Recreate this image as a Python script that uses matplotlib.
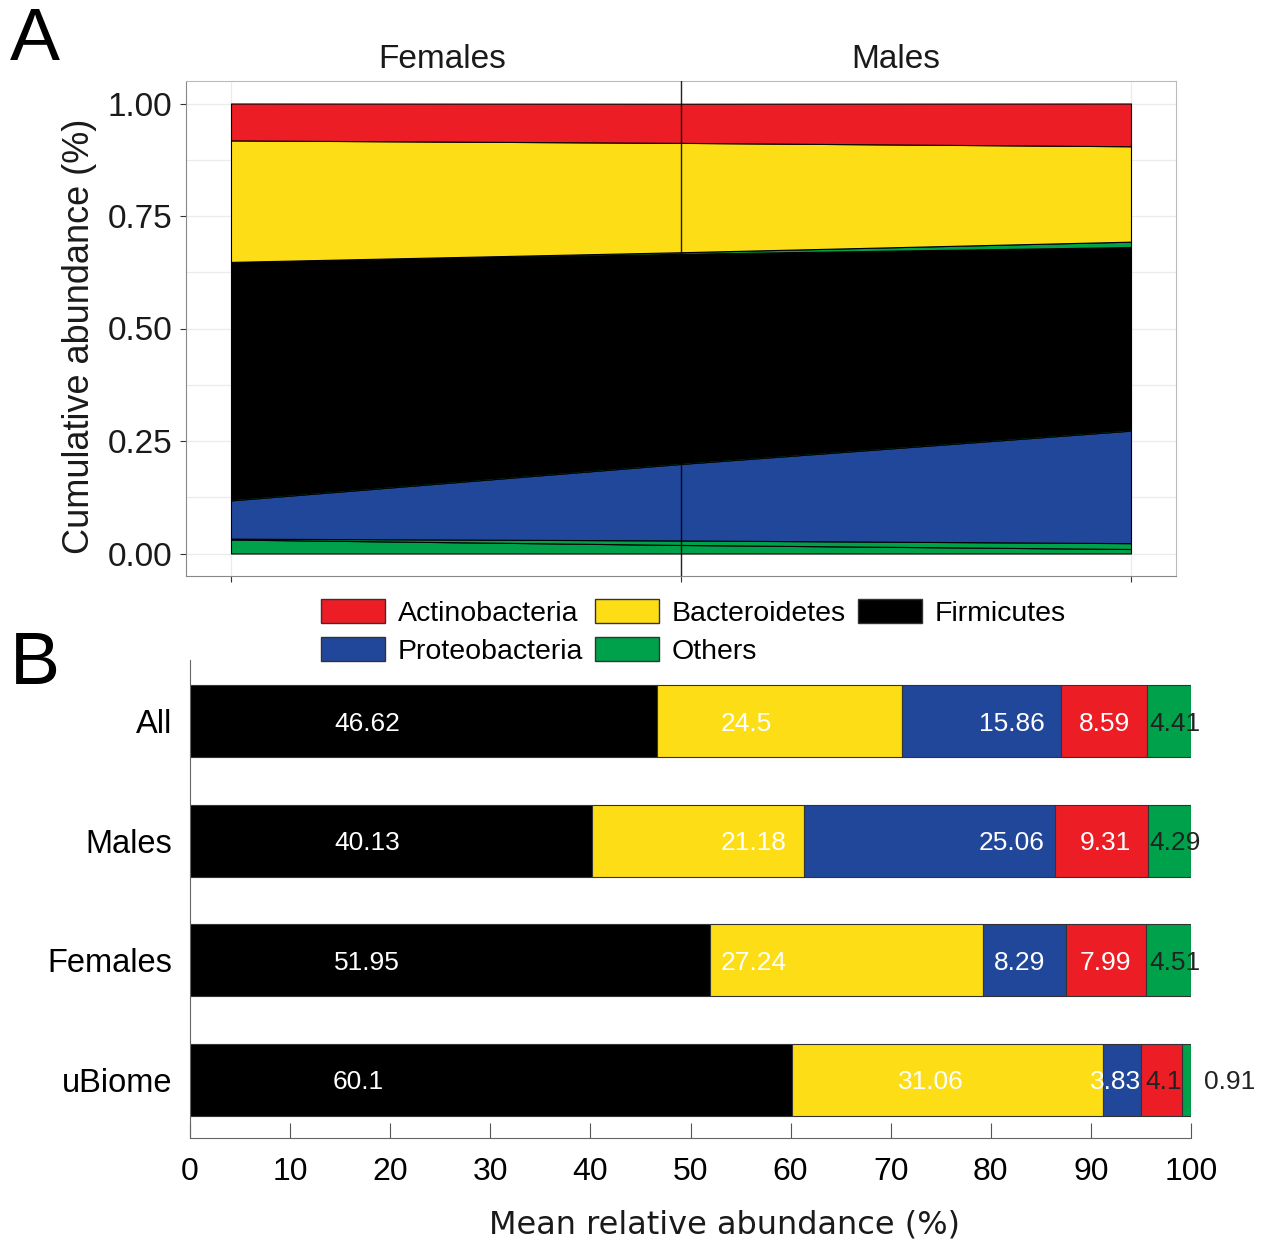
import numpy as np
import matplotlib
matplotlib.use("Agg")
import matplotlib.pyplot as plt
from matplotlib.patches import Patch
from matplotlib.ticker import FixedLocator

plt.rcParams['font.family'] = ['Liberation Sans', 'DejaVu Sans']

# ---------------- Data ----------------
# Panel A: layer thickness at three x positions (Females, All, Males)
a_x = [0, 1, 2]
a_layers = ['Others1', 'Others2', 'Proteobacteria', 'Others3', 'Firmicutes',
            'Others4', 'Bacteroidetes', 'Actinobacteria']
a_others1 = [0.031, 0.019, 0.010]
a_others2 = [0.002, 0.010, 0.013]
a_proteo = [0.085, 0.170, 0.250]
a_others3 = [0.003, 0.003, 0.003]
a_firm = [0.526, 0.464, 0.405]
a_others4 = [0.001, 0.0035, 0.012]
a_bact = [0.270, 0.243, 0.212]
a_actino = [0.082, 0.087, 0.095]

# Panel B
categories = ['All', 'Males', 'Females', 'uBiome']
phyla = ['Firmicutes', 'Bacteroidetes', 'Proteobacteria', 'Actinobacteria', 'Others']
firmicutes = [46.62, 40.13, 51.95, 60.1]
bacteroidetes = [24.5, 21.18, 27.24, 31.06]
proteobacteria = [15.86, 25.06, 8.29, 3.83]
actinobacteria = [8.59, 9.31, 7.99, 4.1]
others = [4.41, 4.29, 4.51, 0.91]
# label anchor positions (data units) and colours, as printed in the figure
label_x = {
    'Firmicutes': [17.7, 17.7, 17.7, 16.8],
    'Bacteroidetes': [55.6, 56.3, 56.3, 74.0],
    'Proteobacteria': [82.1, 82.1, 82.9, 92.5],
    'Actinobacteria': [91.4, 91.4, 91.4, 97.3],
    'Others': [98.4, 98.4, 98.4, 103.9],
}
label_col = {
    'Firmicutes': ['white'] * 4,
    'Bacteroidetes': ['white'] * 4,
    'Proteobacteria': ['white'] * 4,
    'Actinobacteria': ['white', 'white', 'white', '#222222'],
    'Others': ['#222222'] * 4,
}

colors = {
    'Actinobacteria': '#ED1D25',
    'Bacteroidetes': '#FDDD16',
    'Firmicutes': '#000000',
    'Proteobacteria': '#21479A',
    'Others': '#00A14B',
}

W, H = 1265, 1239
fig = plt.figure(figsize=(W / 100, H / 100), dpi=100)

# ---------------- Panel A ----------------
axA = fig.add_axes([186 / W, 1 - 576 / H, 990 / W, 495 / H])
layer_vals = [a_others1, a_others2, a_proteo, a_others3, a_firm, a_others4, a_bact, a_actino]
layer_cols = [colors['Others'], colors['Others'], colors['Proteobacteria'], colors['Others'],
              colors['Firmicutes'], colors['Others'], colors['Bacteroidetes'], colors['Actinobacteria']]
base = np.zeros(3)
for vals, c in zip(layer_vals, layer_cols):
    top = base + np.array(vals)
    axA.fill_between(a_x, base, top, facecolor=c, edgecolor='black', linewidth=0.8, zorder=3)
    base = top
axA.axvline(1, color='black', lw=1.0, alpha=0.85, zorder=5)
axA.set_xlim(-0.1, 2.1)
axA.set_ylim(-0.05, 1.05)
axA.set_yticks([0, 0.25, 0.5, 0.75, 1.0])
axA.set_yticklabels(['0.00', '0.25', '0.50', '0.75', '1.00'])
axA.yaxis.set_minor_locator(FixedLocator([0.125, 0.375, 0.625, 0.875]))
axA.set_xticks([0, 1, 2])
axA.set_xticklabels(['', '', ''])
axA.grid(True, which='both', color='#ebebeb', lw=0.9, zorder=0)
axA.set_axisbelow(True)
axA.tick_params(axis='y', which='major', length=4, color='#333333', labelsize=24, pad=6,
                labelcolor='#1a1a1a')
axA.tick_params(axis='y', which='minor', length=0)
axA.tick_params(axis='x', length=4, color='#333333')
for s in ['left', 'bottom']:
    axA.spines[s].set_color('#888888')
for s in ['top', 'right']:
    axA.spines[s].set_color('#bbbbbb')
axA.set_ylabel('Cumulative abundance (%)', fontsize=26, color='#1a1a1a', labelpad=6)
axA.yaxis.set_label_coords(-0.09, 0.485)
fig.text(442 / W, 1 - 59 / H, 'Females', fontsize=24, ha='center', va='center', color='#1a1a1a')
fig.text(896 / W, 1 - 59 / H, 'Males', fontsize=24, ha='center', va='center', color='#1a1a1a')
fig.text(10 / W, 1 - 40 / H, 'A', fontsize=54, ha='left', va='center', color='black')

# ---------------- Legend ----------------
leg_order = ['Actinobacteria', 'Proteobacteria', 'Bacteroidetes', 'Others', 'Firmicutes']
handles = [Patch(facecolor=colors[p], edgecolor='#333333', linewidth=1) for p in leg_order]
fig.legend(handles, leg_order, ncol=3, loc='upper left',
           bbox_to_anchor=(321 / W, 1 - 599 / H), frameon=False, fontsize=20.5,
           handlelength=2.25, handleheight=0.9, handletextpad=0.45, columnspacing=0.42,
           labelspacing=0.36, borderpad=0, borderaxespad=0)

# ---------------- Panel B ----------------
axB = fig.add_axes([190 / W, 1 - 1138 / H, 1001 / W, 478 / H])
ypos = np.arange(len(categories))[::-1]
series = {'Firmicutes': firmicutes, 'Bacteroidetes': bacteroidetes,
          'Proteobacteria': proteobacteria, 'Actinobacteria': actinobacteria, 'Others': others}
left = np.zeros(len(categories))
for i, p in enumerate(phyla):
    vals = np.array(series[p])
    axB.barh(ypos, vals, left=left, height=0.6, color=colors[p], edgecolor='#333333',
             linewidth=0.8, zorder=2 + 2 * i)
    for j in range(len(categories)):
        axB.text(label_x[p][j], ypos[j], f"{series[p][j]:g}", ha='center', va='center_baseline',
                 fontsize=19, color=label_col[p][j], zorder=3 + 2 * i, clip_on=False)
    left = left + vals
axB.set_xlim(0, 100)
axB.set_ylim(-0.485, 3.51)
axB.set_yticks(ypos)
axB.set_yticklabels(categories)
for lab in axB.get_yticklabels():
    lab.set_va('center_baseline')
axB.set_xticks(np.arange(0, 101, 10))
axB.tick_params(axis='y', length=0, labelsize=23.5, pad=13, labelcolor='black')
axB.tick_params(axis='x', direction='in', length=11, color='#555555', labelsize=23, pad=14,
                labelcolor='black')
for s in ['top', 'right']:
    axB.spines[s].set_visible(False)
for s in ['left', 'bottom']:
    axB.spines[s].set_color('#666666')
axB.set_xlabel('Mean relative abundance (%)', fontsize=23, family='DejaVu Sans',
               color='#1a1a1a', labelpad=16, x=0.534)
fig.text(10 / W, 1 - 664 / H, 'B', fontsize=54, ha='left', va='center', color='black')

fig.savefig('out.png', dpi=100)
